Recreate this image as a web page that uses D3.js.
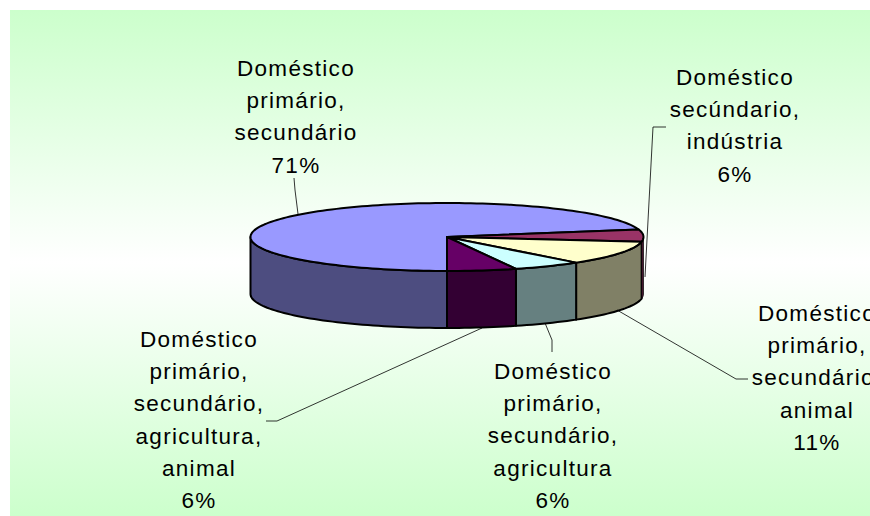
<!DOCTYPE html>
<html>
<head>
<meta charset="utf-8">
<script src="https://cdn.jsdelivr.net/npm/d3@7"></script>
<style>
  html, body { margin: 0; padding: 0; background: #fff; overflow: hidden; }
  text { font-family: "Liberation Sans", Arial, sans-serif; font-size: 22.5px; letter-spacing: 1.3px; fill: #000; }
</style>
</head>
<body>
<div id="chart"></div>
<script>
// data
const categories = [
  "Doméstico primário, secundário",
  "Doméstico secúndario, indústria",
  "Doméstico primário, secundário, animal",
  "Doméstico primário, secundário, agricultura",
  "Doméstico primário, secundário, agricultura, animal"
];
const shares = [71.4, 5.7, 11.4, 5.7, 5.7];
const labelLines = [
  ["Doméstico", "primário,", "secundário"],
  ["Doméstico", "secúndario,", "indústria"],
  ["Doméstico", "primário,", "secundário,", "animal"],
  ["Doméstico", "primário,", "secundário,", "agricultura"],
  ["Doméstico", "primário,", "secundário,", "agricultura,", "animal"]
];

// layout
const W = 870, H = 516;
const topColors = ["#9999ff", "#993366", "#ffffcc", "#ccffff", "#660066"];
const sideColors = ["#4d4d80", "#4d1a33", "#808066", "#668080", "#330033"];
const cx = 447, cy = 237, rx = 196.5, ry = 34, depth = 57;
const labelPos = [
  { x: 296, y: 76 },
  { x: 735, y: 85 },
  { x: 817, y: 321 },
  { x: 553, y: 379 },
  { x: 199, y: 347 }
];
const lineGap = 32.2;
const leaders = [
  [[294, 178], [295, 190], [298, 214]],
  [[666, 127], [653, 127], [645, 277]],
  [[617, 310], [736, 379], [748, 379]],
  [[545, 323], [552, 340], [552, 352]],
  [[482, 328], [277, 421], [266, 421]]
];

const svg = d3.select("#chart").append("svg")
  .attr("width", W)
  .attr("height", H)
  .style("display", "block");

const grad = svg.append("defs").append("linearGradient")
  .attr("id", "bg")
  .attr("x1", 0).attr("y1", 0).attr("x2", 0).attr("y2", 1);
grad.append("stop").attr("offset", "0%").attr("stop-color", "#ccffcc");
grad.append("stop").attr("offset", "50%").attr("stop-color", "#ffffff");
grad.append("stop").attr("offset", "100%").attr("stop-color", "#ccffcc");

svg.append("rect")
  .attr("x", 10).attr("y", 10)
  .attr("width", W - 10).attr("height", H - 10)
  .attr("fill", "url(#bg)");

const pie = d3.pie().sort(null).startAngle(Math.PI).endAngle(3 * Math.PI);
const arcs = pie(shares);

const px = a => cx + rx * Math.sin(a);
const py = a => cy - ry * Math.cos(a);
const line = d3.line();

function rimAngles(a0, a1) {
  const n = Math.max(2, Math.ceil((a1 - a0) / 0.03));
  return d3.range(n + 1).map(i => a0 + (a1 - a0) * i / n);
}

// side walls, only the front half of the rim shows
// the sliver of slice 1 goes last with a thin line or the stroke hides it
[0, 2, 3, 4, 1].forEach(i => {
  const d = arcs[i];
  const spans = [[d.startAngle, d.endAngle], [d.startAngle - 2 * Math.PI, d.endAngle - 2 * Math.PI]];
  spans.forEach(([s, e]) => {
    const a0 = Math.max(s, Math.PI / 2);
    const a1 = Math.min(e, 3 * Math.PI / 2);
    if (a1 <= a0) return;
    const angles = rimAngles(a0, a1);
    const pts = angles.map(a => [px(a), py(a)])
      .concat(angles.slice().reverse().map(a => [px(a), py(a) + depth]));
    svg.append("path")
      .attr("d", line(pts) + "Z")
      .attr("fill", sideColors[i])
      .attr("stroke", "#000")
      .attr("stroke-width", i === 1 ? 0.7 : 2)
      .attr("stroke-linejoin", "round");
  });
});

// top faces
arcs.forEach((d, i) => {
  const pts = [[cx, cy]].concat(rimAngles(d.startAngle, d.endAngle).map(a => [px(a), py(a)]));
  svg.append("path")
    .attr("d", line(pts) + "Z")
    .attr("fill", topColors[i])
    .attr("stroke", "#000")
    .attr("stroke-width", 2)
    .attr("stroke-linejoin", "round");
});

// leader lines
svg.selectAll(".leader")
  .data(leaders)
  .enter()
  .append("path")
  .attr("class", "leader")
  .attr("d", d => line(d))
  .attr("fill", "none")
  .attr("stroke", "#000")
  .attr("stroke-width", 0.8);

// labels
const labels = svg.selectAll(".label")
  .data(arcs)
  .enter()
  .append("text")
  .attr("class", "label")
  .attr("text-anchor", "middle")
  .attr("aria-label", (d, i) => categories[i]);

labels.each(function(d, i) {
  const rows = labelLines[i].concat(d3.format(".0f")(d.data) + "%");
  d3.select(this).selectAll("tspan")
    .data(rows)
    .enter()
    .append("tspan")
    .attr("x", labelPos[i].x)
    .attr("y", (r, j) => labelPos[i].y + j * lineGap)
    .text(r => r);
});
</script>
</body>
</html>
